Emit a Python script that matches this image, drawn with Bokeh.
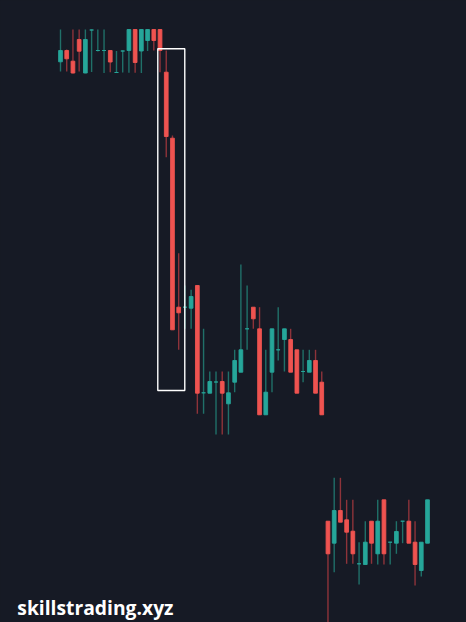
from bokeh.plotting import figure
from bokeh.models import Range1d, Label, GlobalInlineStyleSheet, ColumnDataSource
from bokeh.embed import file_html
from bokeh.resources import INLINE

# ---- data (arbitrary price units) ----
opens = [588.7, 600, 589.3, 611, 577.5, 620.5, 600, 600, 600, 578, 599.5, 600, 621, 599.5, 610, 621,
         621, 578.3, 512.3, 343.3, 343.3, 342.3, 365, 257.7, 257.3, 268.5, 269, 246.7, 268.3, 278.3,
         321.7, 343.3, 321.7, 235.7, 278.3, 300.7, 311, 311, 300.7, 279, 278.3, 290, 268.3,
         129.3, 107.3, 140, 130.7, 119.3, 86.7, 86, 129.3, 96.7, 150.7, 108.3, 107.3, 129.3, 129.3,
         108.3, 80, 107.3]
highs = [621, 601, 621, 621, 621, 621, 621, 621, 600, 599.5, 600, 621, 621, 621, 621, 621,
         621, 600, 515, 397.3, 365, 360.7, 365, 321.7, 279, 279, 279, 279, 300.7, 386,
         365, 343.3, 343.3, 300.7, 321.7, 343.3, 321.7, 321.7, 300.7, 300.7, 300.7, 300.7, 279,
         129.3, 172.7, 172.7, 150.7, 150.7, 108.3, 129.3, 129.3, 150.7, 150.7, 108.3, 129.3, 129.3, 150.7,
         129.3, 108.3, 150.7]
lows = [579, 579, 577, 579, 577.3, 578.5, 599, 577.5, 578.3, 577.5, 578, 577.7, 577.7, 577.5, 599.5, 600,
        578.3, 493.3, 320.7, 300.7, 321.7, 321.7, 236.7, 236.7, 257.3, 216, 216, 216, 258.3, 278.3,
        300.7, 321.7, 235.7, 235.7, 258.3, 290, 279, 278.3, 257.3, 268.3, 278.3, 257.3, 235.7,
        28, 78.3, 128.3, 86.7, 86.7, 66, 86, 86.7, 86, 86, 86, 96.7, 107.3, 107.3,
        65, 74, 107.3]
closes = [600, 591.7, 577.5, 599.3, 611, 620.5, 600, 600, 588.5, 578, 599.5, 621, 588, 621, 621, 610,
          600, 514, 320.7, 337.7, 343.3, 354, 257.3, 257.7, 269, 268.5, 257.3, 257.7, 290, 300.7,
          321.7, 331.7, 235.7, 258.3, 321.7, 300.7, 321.7, 278.3, 257.3, 279, 290, 257.3, 235.7,
          96.7, 140, 128.3, 118.3, 96.7, 86.7, 108.3, 107.3, 129.3, 96.7, 108.3, 119, 129.3, 107.3,
          86, 108.3, 150.7]
idx = list(range(len(opens)))

box_x = [15.64, 19.98]
box_y = [260, 601.7]
watermark = "skillstrading.xyz"

BG = "#161a25"
UP = "#26a69a"
DOWN = "#ef5350"
UP_WICK = "#207069"
DOWN_WICK = "#8e333a"

up = [c >= o for o, c in zip(opens, closes)]
src = ColumnDataSource(dict(
    x=idx,
    high=highs,
    low=lows,
    top=[max(o, c) for o, c in zip(opens, closes)],
    bottom=[min(o, c) for o, c in zip(opens, closes)],
    color=[UP if u else DOWN for u in up],
    wick=[UP_WICK if u else DOWN_WICK for u in up],
))

p = figure(width=466, height=622, output_backend="svg", toolbar_location=None,
           x_range=Range1d(-9.646, 65.27), y_range=Range1d(28, 650),
           x_axis_location=None, y_axis_location=None, min_border=0,
           background_fill_color=BG, border_fill_color=BG, outline_line_color=None)
p.grid.visible = False
p.stylesheets = [GlobalInlineStyleSheet(
    css="html,body{margin:0;padding:0;overflow:hidden;background-color:%s;}" % BG)]

p.segment(x0="x", y0="high", x1="x", y1="low", source=src, line_color="wick", line_width=1.4)
p.vbar(x="x", top="top", bottom="bottom", width=0.6, source=src,
       fill_color="color", line_color="color", line_width=0.9)

p.quad(left=[box_x[0]], right=[box_x[1]], bottom=[box_y[0]], top=[box_y[1]],
       fill_color=None, line_color="white", line_width=1.4)

p.add_layout(Label(x=16.8, y=14.7, x_units="screen", y_units="screen", text=watermark,
                   text_color="white", text_font="Open Sans", text_font_style="bold",
                   text_font_size="19.3px", text_baseline="alphabetic"))

open("out.html", "w").write(file_html(p, INLINE))
